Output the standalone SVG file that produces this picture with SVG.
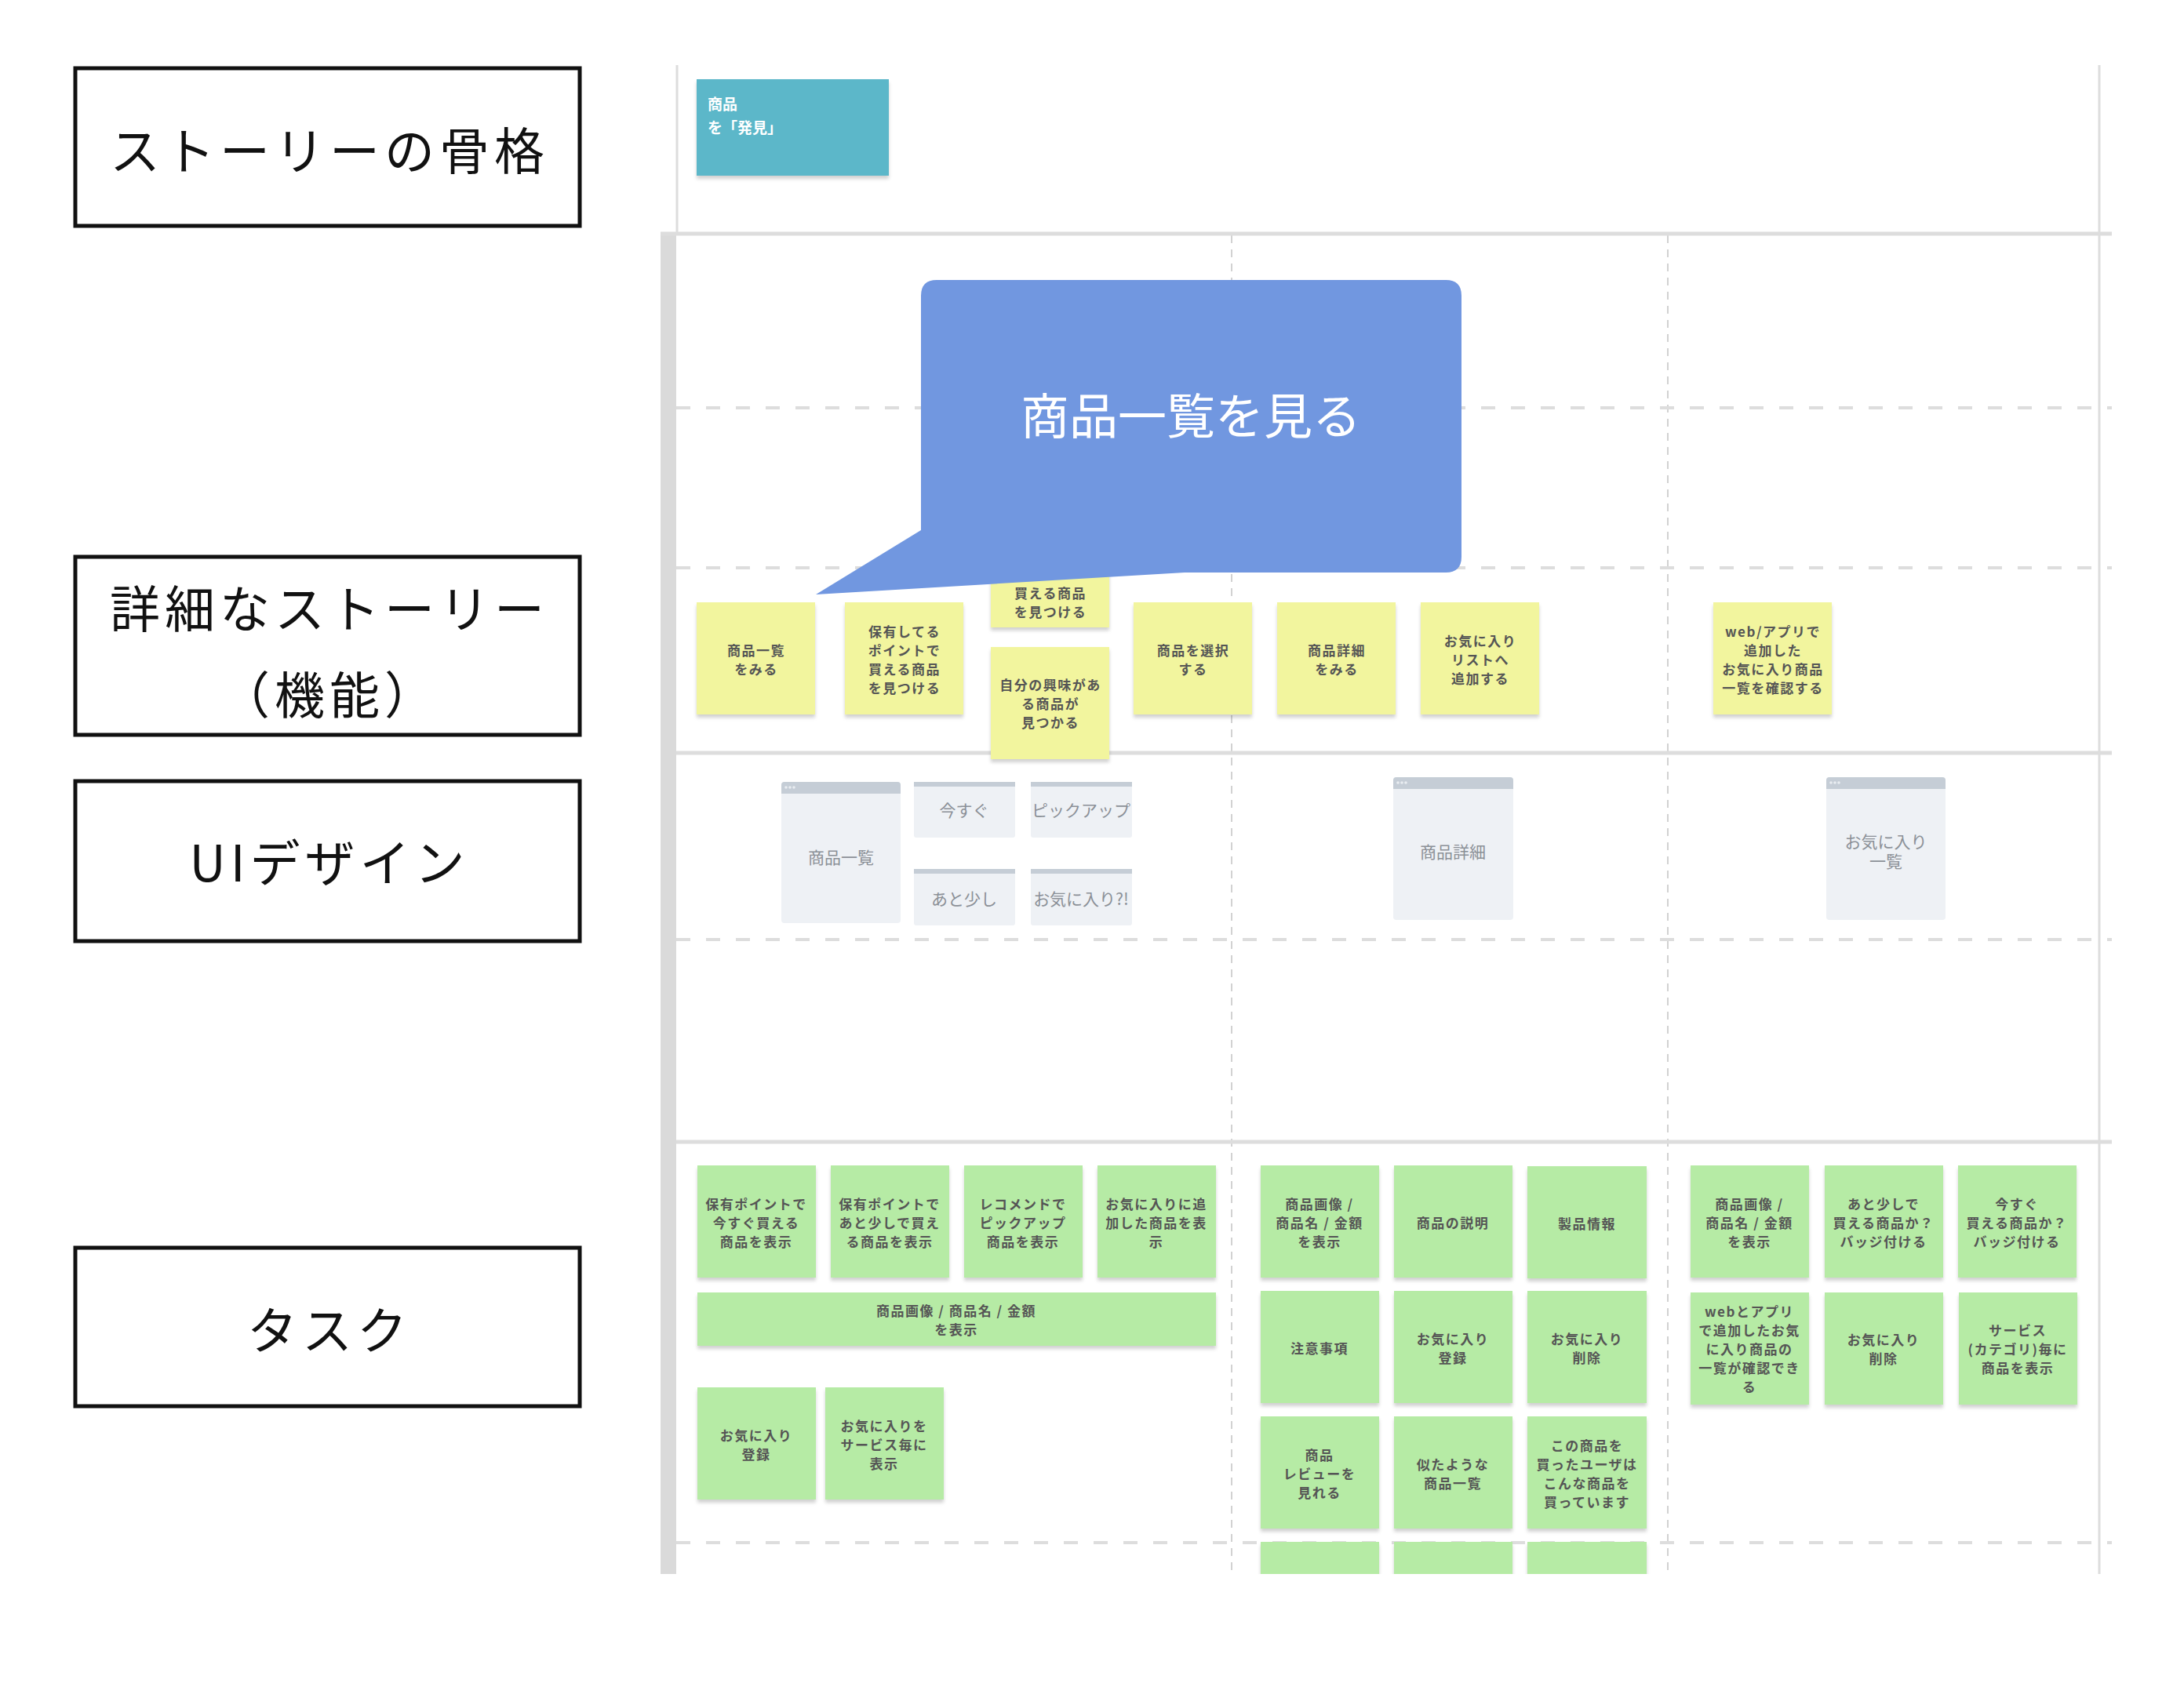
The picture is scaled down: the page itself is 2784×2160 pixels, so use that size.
<svg xmlns="http://www.w3.org/2000/svg" width="2784" height="2160" viewBox="0 0 2784 2160">
<defs>
<style>
.lbl{fill:#fff;stroke:#111;stroke-width:5}
.lt{font-family:"Noto Sans CJK JP","Noto Sans CJK SC",sans-serif;font-size:64px;fill:#111;letter-spacing:6px;text-anchor:middle;dominant-baseline:central}
.y{fill:#F2F59E;filter:url(#sh)}
.g{fill:#B6EBA5;filter:url(#sh)}
.st{font-family:"Noto Sans CJK JP","Noto Sans CJK SC",sans-serif;font-size:17px;font-weight:bold;fill:#555;text-anchor:middle;dominant-baseline:central;letter-spacing:1.5px}
.ub{fill:#EEF1F5}
.uh{fill:#C5CDD6}
.ut{font-family:"Noto Sans CJK JP","Noto Sans CJK SC",sans-serif;font-size:21px;fill:#8B9097;text-anchor:middle;dominant-baseline:central}
.solid{stroke:#DDDDDD;stroke-width:5;fill:none}
.hd{stroke:#DDDDDD;stroke-width:4;stroke-dasharray:18 20;fill:none}
.vd{stroke:#D2D2D2;stroke-width:2;stroke-dasharray:10 8;fill:none}
.dot{fill:#E9EDF1}
</style>
<filter id="sh" x="-10%" y="-10%" width="120%" height="125%">
<feDropShadow dx="0" dy="4" stdDeviation="2" flood-color="#000" flood-opacity="0.18"/>
</filter>
<clipPath id="board"><rect x="0" y="0" width="2784" height="2007"/></clipPath>
</defs>
<rect width="2784" height="2160" fill="#fff"/>

<g id="labels">
<g id="label-backbone"><rect class="lbl" x="96" y="87" width="643" height="201"/><text class="lt" x="420" y="188">ストーリーの骨格</text></g>
<g id="label-detail"><rect class="lbl" x="96" y="710" width="643" height="227"/><text class="lt" x="420" y="772">詳細なストーリー</text><text class="lt" x="420" y="882">（機能）</text></g>
<g id="label-ui"><rect class="lbl" x="96" y="996" width="643" height="204"/><text class="lt" x="420" y="1096">UIデザイン</text></g>
<g id="label-task"><rect class="lbl" x="96" y="1591" width="643" height="202"/><text class="lt" x="420" y="1692">タスク</text></g>
</g>

<g clip-path="url(#board)">
<g id="grid">
<line class="solid" x1="863" y1="83" x2="863" y2="298" style="stroke-width:3"/>
<line class="solid" x1="2676" y1="83" x2="2676" y2="2007" style="stroke-width:3"/>
<rect x="842" y="298" width="20" height="1709" fill="#DADADA"/>
<line class="vd" x1="1570" y1="300" x2="1570" y2="2007"/>
<line class="vd" x1="2126" y1="300" x2="2126" y2="2007"/>
<line class="solid" x1="842" y1="298" x2="2692" y2="298"/>
<line class="hd" x1="862" y1="520" x2="2692" y2="520"/>
<line class="hd" x1="862" y1="724" x2="2692" y2="724"/>
<line class="solid" x1="862" y1="960" x2="2692" y2="960"/>
<line class="hd" x1="862" y1="1198" x2="2692" y2="1198"/>
<line class="solid" x1="862" y1="1456" x2="2692" y2="1456"/>
<line class="hd" x1="862" y1="1967" x2="2692" y2="1967"/>
</g>

<g id="backbone">
<rect x="888" y="101" width="245" height="123" fill="#5BB7C9" filter="url(#sh)"/>
<text x="902" y="131" font-family="Noto Sans CJK JP, sans-serif" font-size="19" font-weight="bold" fill="#fff" dominant-baseline="central">商品</text>
<text x="902" y="161" font-family="Noto Sans CJK JP, sans-serif" font-size="19" font-weight="bold" fill="#fff" dominant-baseline="central">を「発見」</text>
</g>

<g id="stories">
<g id="s1"><rect class="y" x="888" y="768" width="151" height="143"/><text class="st" x="964" y="828">商品一覧</text><text class="st" x="964" y="852">をみる</text></g>
<g id="s2"><rect class="y" x="1077" y="768" width="151" height="143"/><text class="st" x="1153" y="804">保有してる</text><text class="st" x="1153" y="828">ポイントで</text><text class="st" x="1153" y="852">買える商品</text><text class="st" x="1153" y="876">を見つける</text></g>
<g id="s3"><rect class="y" x="1263" y="657" width="151" height="143"/><text class="st" x="1339" y="755">買える商品</text><text class="st" x="1339" y="779">を見つける</text></g>
<g id="s4"><rect class="y" x="1263" y="825" width="151" height="143"/><text class="st" x="1339" y="872">自分の興味があ</text><text class="st" x="1339" y="896">る商品が</text><text class="st" x="1339" y="920">見つかる</text></g>
<g id="s5"><rect class="y" x="1445" y="768" width="151" height="143"/><text class="st" x="1521" y="828">商品を選択</text><text class="st" x="1521" y="852">する</text></g>
<g id="s6"><rect class="y" x="1628" y="768" width="151" height="143"/><text class="st" x="1704" y="828">商品詳細</text><text class="st" x="1704" y="852">をみる</text></g>
<g id="s7"><rect class="y" x="1811" y="768" width="151" height="143"/><text class="st" x="1887" y="816">お気に入り</text><text class="st" x="1887" y="840">リストへ</text><text class="st" x="1887" y="864">追加する</text></g>
<g id="s8"><rect class="y" x="2184" y="768" width="151" height="143"/><text class="st" x="2260" y="804">web/アプリで</text><text class="st" x="2260" y="828">追加した</text><text class="st" x="2260" y="852">お気に入り商品</text><text class="st" x="2260" y="876">一覧を確認する</text></g>
</g>

<g id="callout">
<path d="M1194 357 H1843 Q1863 357 1863 377 V710 Q1863 730 1843 730 H1510 L1040 758 L1174 676 V377 Q1174 357 1194 357 Z" fill="#7197E0"/>
<text x="1518" y="527" font-family="Noto Sans CJK JP, sans-serif" font-size="62" fill="#fff" text-anchor="middle" dominant-baseline="central">商品一覧を見る</text>
</g>

<g id="ui">
<g id="ui1"><rect class="ub" x="996" y="997" width="152" height="180" rx="4"/><path class="uh" d="M1000 997 H1144 Q1148 997 1148 1001 V1012 H996 V1001 Q996 997 1000 997 Z"/><circle class="dot" cx="1002" cy="1004" r="1.8"/><circle class="dot" cx="1007" cy="1004" r="1.8"/><circle class="dot" cx="1012" cy="1004" r="1.8"/><text class="ut" x="1072" y="1092">商品一覧</text></g>
<g id="ui2"><rect class="ub" x="1165" y="997" width="129" height="71" rx="3"/><rect class="uh" x="1165" y="997" width="129" height="6"/><text class="ut" x="1229" y="1032">今すぐ</text></g>
<g id="ui3"><rect class="ub" x="1314" y="997" width="129" height="71" rx="3"/><rect class="uh" x="1314" y="997" width="129" height="6"/><text class="ut" x="1378" y="1032">ピックアップ</text></g>
<g id="ui4"><rect class="ub" x="1165" y="1108" width="129" height="72" rx="3"/><rect class="uh" x="1165" y="1108" width="129" height="6"/><text class="ut" x="1229" y="1145">あと少し</text></g>
<g id="ui5"><rect class="ub" x="1314" y="1108" width="129" height="72" rx="3"/><rect class="uh" x="1314" y="1108" width="129" height="6"/><text class="ut" x="1378" y="1145">お気に入り?!</text></g>
<g id="ui6"><rect class="ub" x="1776" y="991" width="153" height="182" rx="4"/><path class="uh" d="M1780 991 H1925 Q1929 991 1929 995 V1006 H1776 V995 Q1776 991 1780 991 Z"/><circle class="dot" cx="1782" cy="998" r="1.8"/><circle class="dot" cx="1787" cy="998" r="1.8"/><circle class="dot" cx="1792" cy="998" r="1.8"/><text class="ut" x="1852" y="1085">商品詳細</text></g>
<g id="ui7"><rect class="ub" x="2328" y="991" width="152" height="182" rx="4"/><path class="uh" d="M2332 991 H2476 Q2480 991 2480 995 V1006 H2328 V995 Q2328 991 2332 991 Z"/><circle class="dot" cx="2334" cy="998" r="1.8"/><circle class="dot" cx="2339" cy="998" r="1.8"/><circle class="dot" cx="2344" cy="998" r="1.8"/><text class="ut" x="2404" y="1072">お気に入り</text><text class="ut" x="2404" y="1097">一覧</text></g>
</g>

<g id="tasks">
<g id="t1"><rect class="g" x="889" y="1486" width="151" height="143"/><text class="st" x="964" y="1534">保有ポイントで</text><text class="st" x="964" y="1558">今すぐ買える</text><text class="st" x="964" y="1582">商品を表示</text></g>
<g id="t2"><rect class="g" x="1059" y="1486" width="151" height="143"/><text class="st" x="1134" y="1534">保有ポイントで</text><text class="st" x="1134" y="1558">あと少しで買え</text><text class="st" x="1134" y="1582">る商品を表示</text></g>
<g id="t3"><rect class="g" x="1229" y="1486" width="151" height="143"/><text class="st" x="1304" y="1534">レコメンドで</text><text class="st" x="1304" y="1558">ピックアップ</text><text class="st" x="1304" y="1582">商品を表示</text></g>
<g id="t4"><rect class="g" x="1399" y="1486" width="151" height="143"/><text class="st" x="1474" y="1534">お気に入りに追</text><text class="st" x="1474" y="1558">加した商品を表</text><text class="st" x="1474" y="1582">示</text></g>
<g id="t5"><rect class="g" x="889" y="1648" width="661" height="68"/><text class="st" x="1219" y="1670">商品画像 / 商品名 / 金額</text><text class="st" x="1219" y="1694">を表示</text></g>
<g id="t6"><rect class="g" x="889" y="1769" width="151" height="143"/><text class="st" x="964" y="1829">お気に入り</text><text class="st" x="964" y="1853">登録</text></g>
<g id="t7"><rect class="g" x="1052" y="1769" width="151" height="143"/><text class="st" x="1127" y="1817">お気に入りを</text><text class="st" x="1127" y="1841">サービス毎に</text><text class="st" x="1127" y="1865">表示</text></g>

<g id="t8"><rect class="g" x="1607" y="1486" width="151" height="143"/><text class="st" x="1682" y="1534">商品画像 /</text><text class="st" x="1682" y="1558">商品名 / 金額</text><text class="st" x="1682" y="1582">を表示</text></g>
<g id="t9"><rect class="g" x="1777" y="1486" width="151" height="143"/><text class="st" x="1852" y="1558">商品の説明</text></g>
<g id="t10"><rect class="g" x="1947" y="1487" width="152" height="143"/><text class="st" x="2023" y="1559">製品情報</text></g>
<g id="t11"><rect class="g" x="1607" y="1646" width="151" height="143"/><text class="st" x="1682" y="1718">注意事項</text></g>
<g id="t12"><rect class="g" x="1777" y="1646" width="151" height="143"/><text class="st" x="1852" y="1706">お気に入り</text><text class="st" x="1852" y="1730">登録</text></g>
<g id="t13"><rect class="g" x="1947" y="1646" width="152" height="143"/><text class="st" x="2023" y="1706">お気に入り</text><text class="st" x="2023" y="1730">削除</text></g>
<g id="t14"><rect class="g" x="1607" y="1806" width="151" height="143"/><text class="st" x="1682" y="1854">商品</text><text class="st" x="1682" y="1878">レビューを</text><text class="st" x="1682" y="1902">見れる</text></g>
<g id="t15"><rect class="g" x="1777" y="1806" width="151" height="143"/><text class="st" x="1852" y="1866">似たような</text><text class="st" x="1852" y="1890">商品一覧</text></g>
<g id="t16"><rect class="g" x="1947" y="1806" width="152" height="143"/><text class="st" x="2023" y="1842">この商品を</text><text class="st" x="2023" y="1866">買ったユーザは</text><text class="st" x="2023" y="1890">こんな商品を</text><text class="st" x="2023" y="1914">買っています</text></g>
<g id="t17"><rect class="g" x="1607" y="1966" width="151" height="143"/></g>
<g id="t18"><rect class="g" x="1777" y="1966" width="151" height="143"/></g>
<g id="t19"><rect class="g" x="1947" y="1966" width="152" height="143"/></g>

<g id="t20"><rect class="g" x="2155" y="1486" width="151" height="143"/><text class="st" x="2230" y="1534">商品画像 /</text><text class="st" x="2230" y="1558">商品名 / 金額</text><text class="st" x="2230" y="1582">を表示</text></g>
<g id="t21"><rect class="g" x="2326" y="1486" width="151" height="143"/><text class="st" x="2401" y="1534">あと少しで</text><text class="st" x="2401" y="1558">買える商品か？</text><text class="st" x="2401" y="1582">バッジ付ける</text></g>
<g id="t22"><rect class="g" x="2496" y="1486" width="151" height="143"/><text class="st" x="2571" y="1534">今すぐ</text><text class="st" x="2571" y="1558">買える商品か？</text><text class="st" x="2571" y="1582">バッジ付ける</text></g>
<g id="t23"><rect class="g" x="2155" y="1648" width="151" height="143"/><text class="st" x="2230" y="1671">webとアプリ</text><text class="st" x="2230" y="1695">で追加したお気</text><text class="st" x="2230" y="1719">に入り商品の</text><text class="st" x="2230" y="1743">一覧が確認でき</text><text class="st" x="2230" y="1767">る</text></g>
<g id="t24"><rect class="g" x="2326" y="1648" width="151" height="143"/><text class="st" x="2401" y="1707">お気に入り</text><text class="st" x="2401" y="1731">削除</text></g>
<g id="t25"><rect class="g" x="2497" y="1648" width="151" height="143"/><text class="st" x="2572" y="1695">サービス</text><text class="st" x="2572" y="1719">(カテゴリ)毎に</text><text class="st" x="2572" y="1743">商品を表示</text></g>
</g>
</g>
</svg>
